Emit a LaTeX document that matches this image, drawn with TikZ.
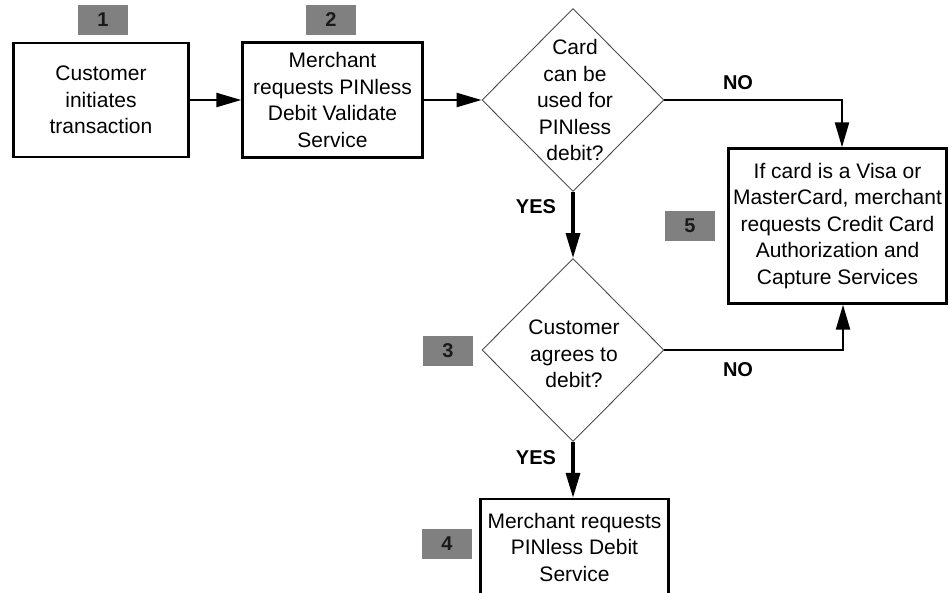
\documentclass[tikz,border=0pt]{standalone}
\usepackage{fontspec}
\setmainfont{Liberation Sans}
\usetikzlibrary{arrows.meta,shapes.geometric}
\definecolor{badgegray}{HTML}{808080}
\definecolor{badgetext}{HTML}{1A1A1A}
\begin{document}
\begin{tikzpicture}[x=1pt,y=1pt,
  every node/.style={font=\fontsize{21}{26.5}\selectfont},
  box/.style={draw, line width=2.4pt, align=center, inner sep=0pt},
  dia/.style={draw=black!70, line width=0.9pt, diamond, minimum width=182pt, minimum height=183pt, inner sep=0pt},
  diatext/.style={align=center, inner sep=0pt},
  badge/.style={fill=badgegray, text=badgetext, minimum width=50pt, minimum height=30pt, inner sep=0pt, font=\bfseries\fontsize{20}{24}\selectfont},
  lbl/.style={font=\bfseries\fontsize{20}{24}\selectfont},
  arr/.style={line width=2.3pt, -{Triangle[length=25pt,width=14pt]}},
  thickarr/.style={arr, line width=3.3pt}
]
\useasboundingbox (0,0) rectangle (949,-592);
\clip (0,0) rectangle (949,-592);

\node[box, minimum width=175pt, minimum height=114pt] (b1) at (101,-100) {Customer\\initiates\\transaction};
\node[box, minimum width=180pt, minimum height=115pt] (b2) at (332.5,-100) {Merchant\\requests PINless\\Debit Validate\\Service};
\node[dia] (d1) at (573,-100) {};
\node[diatext] (t1) at (575,-100) {Card\\can be\\used for\\PINless\\debit?};
\node[box, minimum width=218pt, minimum height=155pt] (b5) at (837.5,-226) {If card is a Visa or\\MasterCard, merchant\\requests Credit Card\\Authorization and\\Capture Services};
\node[dia] (d2) at (573,-350) {};
\node[diatext] (t2) at (574,-354) {Customer\\agrees to\\debit?};
\node[box, minimum width=188pt, minimum height=96pt] (b4) at (574.5,-547) {Merchant requests\\PINless Debit\\Service};

\node[badge] (n1) at (103,-20) {1};
\node[badge] (n2) at (331,-20) {2};
\node[badge] (n5) at (690,-226) {5};
\node[badge] (n3) at (448,-351) {3};
\node[badge] (n4) at (447,-544) {4};

\draw[arr] (b1) -- (b2);
\draw[arr] (b2) -- (d1);
\draw[arr] (d1.east) -| ([xshift=4.5pt]b5.north);
\draw[thickarr] (d1.south) -- (d2.north);
\draw[arr] (d2.east) -| ([xshift=5.5pt]b5.south);
\draw[thickarr] (d2.south) -- (d2.south |- b4.north);

\node[lbl] (no1) at (738,-83) {NO};
\node[lbl] (yes1) at (536,-207) {YES};
\node[lbl] (no2) at (738,-370) {NO};
\node[lbl] (yes2) at (536,-458) {YES};
\end{tikzpicture}
\end{document}
